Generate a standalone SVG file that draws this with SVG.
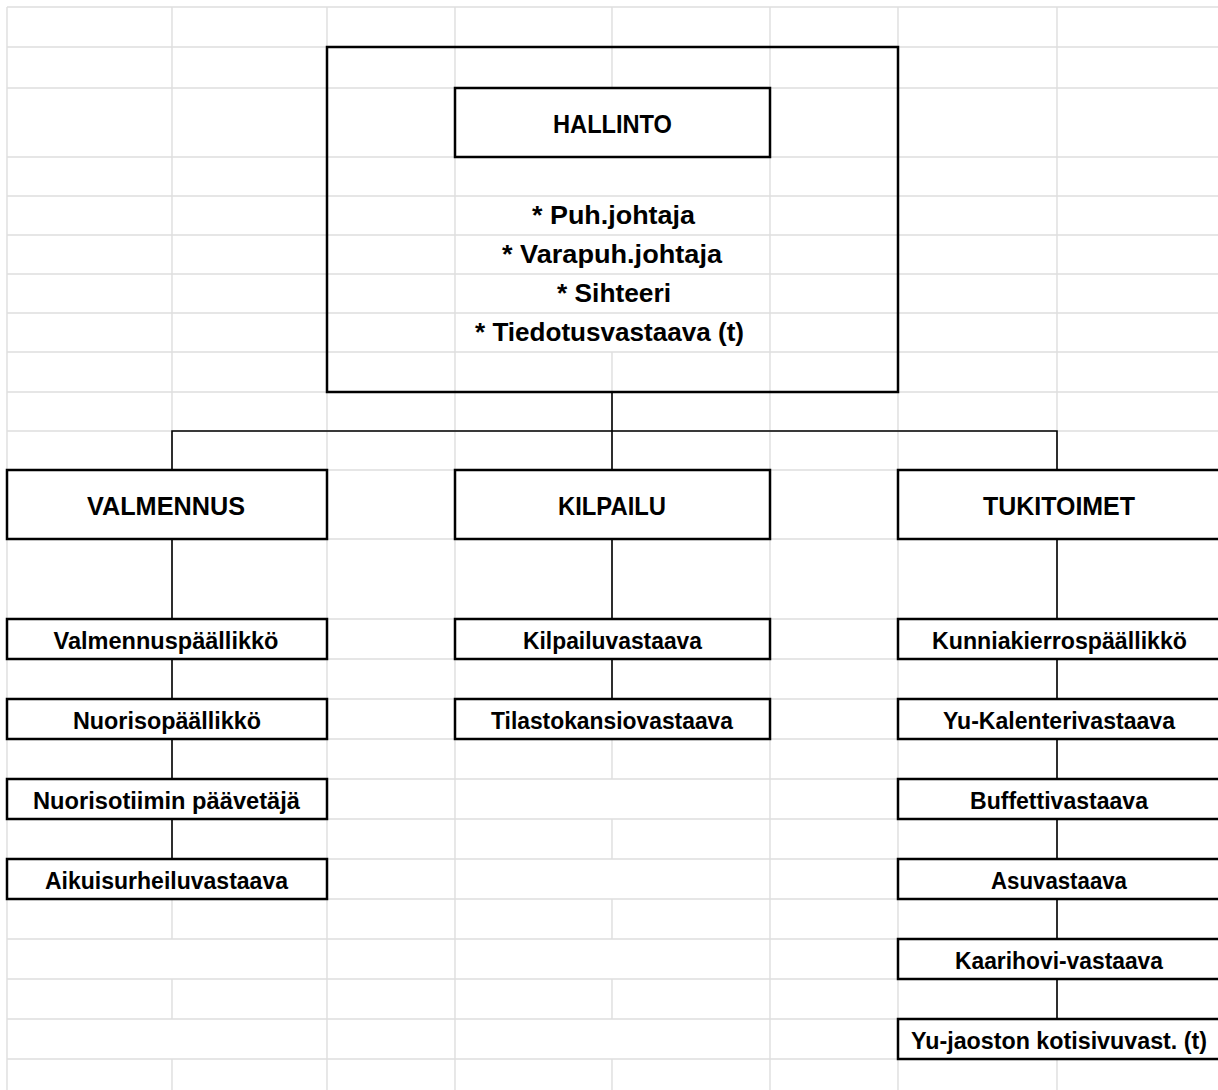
<svg xmlns="http://www.w3.org/2000/svg" width="1218" height="1090" viewBox="0 0 1218 1090">
<style>
.grid{stroke:#dedede;stroke-width:1.4;fill:none}
.box{fill:#fff;stroke:#000;stroke-width:2.5}
.frame{fill:none;stroke:#000;stroke-width:2.5}
.conn{stroke:#000;stroke-width:1.6;fill:none}
.t{font-family:"Liberation Sans",Arial,sans-serif;font-weight:bold;fill:#000;text-anchor:middle}
.h{font-size:26px}
.s{font-size:23.5px}
</style>
<rect x="0" y="0" width="1218" height="1090" fill="#fff"/>
<g id="grid">
<path class="grid" d="M7 7H1218M7 47H1218M7 88H1218M7 157H1218M7 196H1218M7 235H1218M7 274H1218M7 313H1218M7 352H1218M7 392H1218M7 431H1218M7 470H1218M7 539H1218M7 619H1218M7 659H1218M7 699H1218M7 739H1218M7 779H1218M7 819H1218M7 859H1218M7 899H1218M7 939H1218M7 979H1218M7 1019H1218M7 1059H1218"/>
<path class="grid" d="M7 7V1090M172 7V939M172 979V1019M172 1059V1090M327 7V1090M455 7V1090M612 7V88M612 352V779M612 819V859M612 899V939M612 979V1019M612 1059V1090M770 7V1090M898 7V1090M1057 7V1090"/>
</g>
<g id="connectors">
<path class="conn" d="M612 392V431M172 470V431H1057V470M612 431V470"/>
<path class="conn" d="M172 539V619M172 659V699M172 739V779M172 819V859"/>
<path class="conn" d="M612 539V619M612 659V699"/>
<path class="conn" d="M1057 539V619M1057 659V699M1057 739V779M1057 819V859M1057 899V939M1057 979V1019"/>
</g>
<g id="hallinto">
<rect class="frame" x="327" y="47" width="571" height="345"/>
<rect class="box" x="455" y="88" width="315" height="69"/>
<text class="t h" x="612.5" y="133" textLength="119" lengthAdjust="spacingAndGlyphs">HALLINTO</text>
<text class="t h" x="613.5" y="224" textLength="163" lengthAdjust="spacingAndGlyphs">* Puh.johtaja</text>
<text class="t h" x="612" y="263" textLength="220" lengthAdjust="spacingAndGlyphs">* Varapuh.johtaja</text>
<text class="t h" x="614" y="302" textLength="114" lengthAdjust="spacingAndGlyphs">* Sihteeri</text>
<text class="t h" x="609.5" y="341" textLength="269" lengthAdjust="spacingAndGlyphs">* Tiedotusvastaava (t)</text>
</g>
<g id="valmennus">
<rect class="box" x="7" y="470" width="320" height="69"/>
<text class="t h" x="166" y="515" textLength="158" lengthAdjust="spacingAndGlyphs">VALMENNUS</text>
</g>
<g id="kilpailu">
<rect class="box" x="455" y="470" width="315" height="69"/>
<text class="t h" x="612" y="515" textLength="108" lengthAdjust="spacingAndGlyphs">KILPAILU</text>
</g>
<g id="tukitoimet">
<rect class="box" x="898" y="470" width="322" height="69"/>
<text class="t h" x="1059" y="515" textLength="152" lengthAdjust="spacingAndGlyphs">TUKITOIMET</text>
</g>
<g id="valmennuspaallikko">
<rect class="box" x="7" y="619" width="320" height="40"/>
<text class="t s" x="166" y="649" textLength="225" lengthAdjust="spacingAndGlyphs">Valmennuspäällikkö</text>
</g>
<g id="nuorisopaallikko">
<rect class="box" x="7" y="699" width="320" height="40"/>
<text class="t s" x="167" y="729" textLength="188" lengthAdjust="spacingAndGlyphs">Nuorisopäällikkö</text>
</g>
<g id="nuorisotiimin">
<rect class="box" x="7" y="779" width="320" height="40"/>
<text class="t s" x="166.5" y="809" textLength="267" lengthAdjust="spacingAndGlyphs">Nuorisotiimin päävetäjä</text>
</g>
<g id="aikuisurheilu">
<rect class="box" x="7" y="859" width="320" height="40"/>
<text class="t s" x="166.5" y="889" textLength="243" lengthAdjust="spacingAndGlyphs">Aikuisurheiluvastaava</text>
</g>
<g id="kilpailuvastaava">
<rect class="box" x="455" y="619" width="315" height="40"/>
<text class="t s" x="612.5" y="649" textLength="179" lengthAdjust="spacingAndGlyphs">Kilpailuvastaava</text>
</g>
<g id="tilastokansio">
<rect class="box" x="455" y="699" width="315" height="40"/>
<text class="t s" x="612" y="729" textLength="242" lengthAdjust="spacingAndGlyphs">Tilastokansiovastaava</text>
</g>
<g id="kunniakierros">
<rect class="box" x="898" y="619" width="322" height="40"/>
<text class="t s" x="1059.5" y="649" textLength="255" lengthAdjust="spacingAndGlyphs">Kunniakierrospäällikkö</text>
</g>
<g id="yukalenteri">
<rect class="box" x="898" y="699" width="322" height="40"/>
<text class="t s" x="1059" y="729" textLength="232" lengthAdjust="spacingAndGlyphs">Yu-Kalenterivastaava</text>
</g>
<g id="buffetti">
<rect class="box" x="898" y="779" width="322" height="40"/>
<text class="t s" x="1059" y="809" textLength="178" lengthAdjust="spacingAndGlyphs">Buffettivastaava</text>
</g>
<g id="asu">
<rect class="box" x="898" y="859" width="322" height="40"/>
<text class="t s" x="1059" y="889" textLength="136" lengthAdjust="spacingAndGlyphs">Asuvastaava</text>
</g>
<g id="kaarihovi">
<rect class="box" x="898" y="939" width="322" height="40"/>
<text class="t s" x="1059" y="969" textLength="208" lengthAdjust="spacingAndGlyphs">Kaarihovi-vastaava</text>
</g>
<g id="kotisivu">
<rect class="box" x="898" y="1019" width="322" height="40"/>
<text class="t s" x="1059" y="1049" textLength="296" lengthAdjust="spacingAndGlyphs">Yu-jaoston kotisivuvast. (t)</text>
</g>
</svg>
